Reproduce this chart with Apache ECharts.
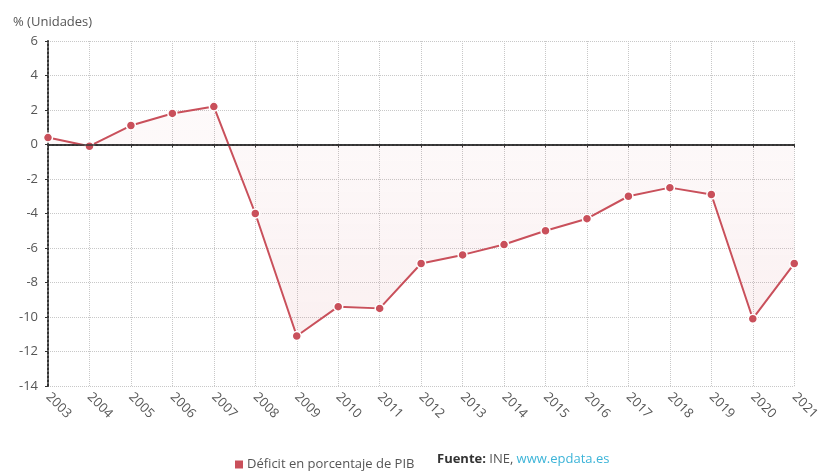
<!DOCTYPE html>
<html>
<head>
<meta charset="utf-8">
<script src="https://cdn.jsdelivr.net/npm/echarts@6/dist/echarts.min.js"></script>
<style>
  html, body { margin: 0; padding: 0; background: #fff; }
  #chart { width: 822px; height: 471px; }
</style>
</head>
<body>
<div id="chart"></div>
<script>
const years = ['2003', '2004', '2005', '2006', '2007', '2008', '2009', '2010', '2011', '2012',
  '2013', '2014', '2015', '2016', '2017', '2018', '2019', '2020', '2021']
const deficit = [0.4, -0.1, 1.1, 1.8, 2.2, -4.0, -11.1, -9.4, -9.5, -6.9,
  -6.4, -5.8, -5.0, -4.3, -3.0, -2.5, -2.9, -10.1, -6.9]
const seriesName = 'Déficit en porcentaje de PIB'

const lineColor = '#c9505b'
const font = 'Open Sans'

const chart = echarts.init(document.getElementById('chart'), null, { renderer: 'canvas' })

chart.setOption({
  animation: false,
  textStyle: { fontFamily: font },
  grid: { left: 48, right: 24, top: 41, bottom: 85 },
  title: {
    text: '% (Unidades)',
    left: 8,
    top: 11,
    textStyle: { fontFamily: font, fontSize: 13, fontWeight: 'normal', color: '#555' }
  },
  legend: {
    left: 228,
    top: 453,
    itemWidth: 10,
    itemHeight: 10,
    itemGap: 6,
    icon: 'rect',
    textStyle: { fontFamily: font, fontSize: 13, color: '#555', padding: [0, 0, 0, -2] },
    data: [{ name: seriesName, itemStyle: { color: lineColor } }]
  },
  graphic: [{
    type: 'text',
    left: 437,
    top: 453,
    style: {
      rich: {
        b: { fontFamily: font, fontSize: 13, fontWeight: 'bold', fill: '#333' },
        n: { fontFamily: font, fontSize: 13, fill: '#555' },
        l: { fontFamily: font, fontSize: 13, fill: '#3cb4d8' }
      },
      text: '{b|Fuente:} {n|INE,} {l|www.epdata.es}'
    }
  }],
  xAxis: {
    type: 'category',
    data: years,
    boundaryGap: false,
    axisLine: { lineStyle: { color: '#333', type: 'dotted', width: 2 } },
    axisTick: { show: true, length: 3, lineStyle: { color: '#333' } },
    axisLabel: { rotate: -45, margin: 9, color: '#555', fontSize: 13, fontFamily: font },
    splitLine: { show: true, lineStyle: { color: '#c8c8c8', type: 'dotted' } }
  },
  yAxis: {
    type: 'value',
    min: -14,
    max: 6,
    interval: 2,
    axisLine: { show: true, lineStyle: { color: '#333', type: 'dotted', width: 2 } },
    axisTick: { show: true, length: 3, lineStyle: { color: '#333' } },
    axisLabel: { color: '#555', fontSize: 13, fontFamily: font, margin: 10 },
    splitLine: { show: true, lineStyle: { color: '#c8c8c8', type: 'dotted' } }
  },
  series: [{
    name: seriesName,
    type: 'line',
    data: deficit,
    symbol: 'circle',
    symbolSize: 9,
    lineStyle: { color: lineColor, width: 2 },
    itemStyle: { color: lineColor, borderColor: '#fff', borderWidth: 1.5 },
    areaStyle: {
      origin: 0,
      color: new echarts.graphic.LinearGradient(0, 0, 0, 1, [
        { offset: 0, color: 'rgba(201, 80, 91, 0.04)' },
        { offset: 1, color: 'rgba(201, 80, 91, 0.12)' }
      ])
    },
    markLine: {
      silent: true,
      symbol: 'none',
      label: { show: false },
      lineStyle: { color: '#333', type: 'solid', width: 1.5 },
      data: [{ yAxis: 0 }]
    },
    z: 3
  }]
})
</script>
</body>
</html>
